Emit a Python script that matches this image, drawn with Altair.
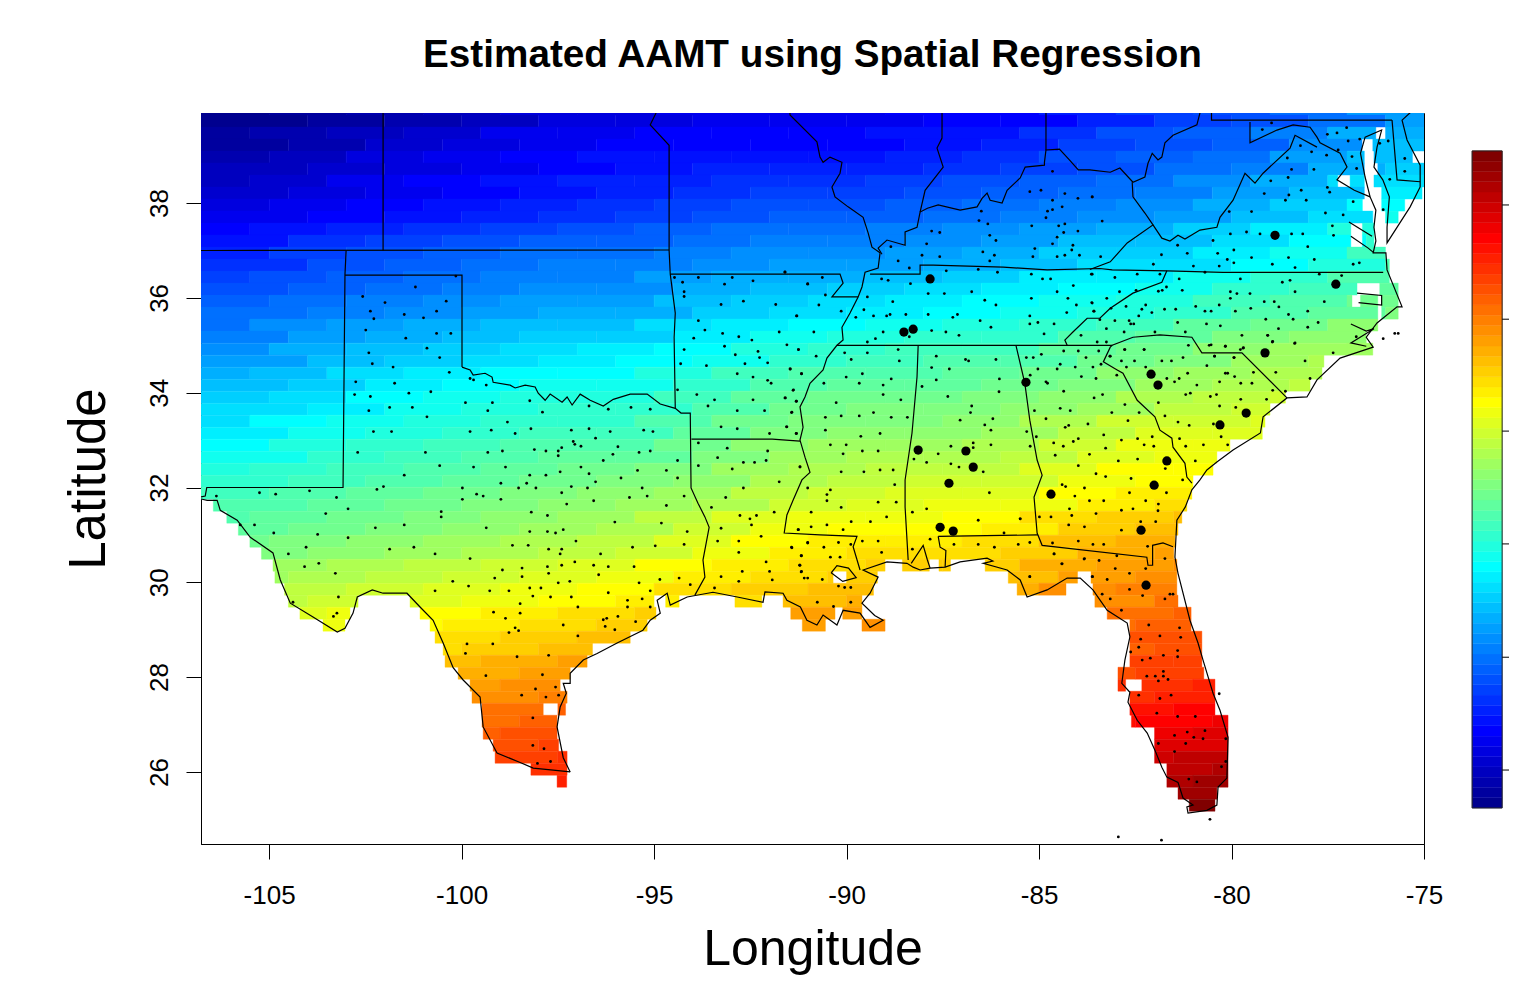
import altair as alt
import pandas as pd

alt.data_transformers.disable_max_rows()

FONT = "Liberation Sans"
TITLE = "Estimated AAMT using Spatial Regression"
X_TICKS = [-105, -100, -95, -90, -85, -80, -75]
Y_TICKS = [26, 28, 30, 32, 34, 36, 38]

PALETTE = [
 "#00008F","#00009F","#0000AF","#0000BF","#0000CF","#0000DF","#0000EF","#0000FF",
 "#0010FF","#0020FF","#0030FF","#0040FF","#0050FF","#0060FF","#0070FF","#0080FF",
 "#008FFF","#009FFF","#00AFFF","#00BFFF","#00CFFF","#00DFFF","#00EFFF","#00FFFF",
 "#10FFEF","#20FFDF","#30FFCF","#40FFBF","#50FFAF","#60FF9F","#70FF8F","#80FF80",
 "#8FFF70","#9FFF60","#AFFF50","#BFFF40","#CFFF30","#DFFF20","#EFFF10","#FFFF00",
 "#FFEF00","#FFDF00","#FFCF00","#FFBF00","#FFAF00","#FF9F00","#FF8F00","#FF8000",
 "#FF7000","#FF6000","#FF5000","#FF4000","#FF3000","#FF2000","#FF1000","#FF0000",
 "#EF0000","#DF0000","#CF0000","#BF0000","#AF0000","#9F0000","#8F0000","#800000"]

COL_LONS = [-106,-104,-102,-100,-98,-96,-94,-92,-90,-88,-86,-84,-82,-80,-78,-76]
COL_STAGGER = [0.0, 1.0, -0.5, 0.5]
LEVELS = {
40.0:[0,1,2,3,5,5,6,6,6,7,7,9,11,12,14,17],
39.75:[0,1,2,3,5,5,6,6,6,7,7,9,11,12,14,17],
39.5:[1,2,3,4,6,6,7,7,7,8,8,10,12,13,15,18],
39.25:[1,2,4,5,6,7,7,7,7,8,9,11,12,13,16,19],
39.0:[2,3,5,6,7,8,8,8,8,9,10,12,13,14,17,19],
38.75:[3,4,5,6,7,8,9,9,9,10,11,12,14,15,18,20],
38.5:[3,4,6,7,8,9,9,10,10,11,12,13,14,16,18,21],
38.25:[4,5,6,7,8,9,10,11,11,12,13,14,15,17,19,22],
38.0:[5,6,7,8,9,10,11,12,12,13,14,15,16,18,20,23],
37.75:[6,7,8,9,10,11,12,13,13,14,15,16,17,19,21,24],
37.5:[7,8,9,10,11,12,13,14,14,15,16,17,18,20,22,25],
37.25:[8,10,11,12,13,13,14,15,15,16,17,19,19,21,23,26],
37.0:[9,11,12,13,14,14,15,16,16,17,18,20,20,22,24,27],
36.75:[10,12,13,14,15,15,16,17,17,18,19,21,21,23,25,28],
36.5:[11,12,13,14,15,15,17,18,18,19,20,22,22,24,26,28],
36.25:[12,13,14,15,16,16,18,19,20,21,22,23,24,26,27,29],
36.0:[13,14,15,16,17,17,19,20,21,22,23,24,25,27,28,30],
35.75:[14,15,16,17,18,18,20,21,22,23,24,25,26,28,29,31],
35.5:[14,16,17,18,19,19,21,22,23,24,25,26,27,29,30,32],
35.25:[15,17,18,19,20,20,22,24,25,26,26,28,29,31,32,33],
35.0:[16,18,19,20,21,22,23,25,26,27,27,29,30,32,33,33],
34.75:[17,19,20,21,22,23,24,26,27,28,28,30,31,33,34,34],
34.5:[18,19,21,22,23,23,25,27,28,28,29,30,32,33,34,35],
34.25:[19,20,22,23,24,24,26,28,29,29,30,31,33,34,35,36],
34.0:[20,21,23,24,25,25,27,29,30,30,31,32,34,35,36,37],
33.75:[21,22,24,25,26,26,28,30,31,31,32,33,35,36,37,38],
33.5:[21,23,24,25,26,26,28,30,31,31,32,34,36,36,37,38],
33.25:[22,24,25,26,27,27,29,31,32,32,33,35,37,37,38,39],
33.0:[23,25,26,27,28,28,30,32,33,33,34,36,38,38,39,40],
32.75:[24,26,27,28,29,29,31,33,34,34,35,37,38,39,39,40],
32.5:[25,26,27,28,29,30,31,33,34,35,35,37,39,39,40,41],
32.25:[26,27,28,29,30,31,32,34,35,36,36,38,39,40,40,41],
32.0:[27,28,29,30,31,32,33,35,36,37,37,39,40,41,41,42],
31.75:[28,29,30,31,32,33,34,36,37,38,38,40,41,42,42,43],
31.5:[28,29,30,31,32,33,35,37,38,38,39,41,42,43,43,44],
31.25:[29,30,31,32,33,34,36,38,39,39,40,42,43,44,44,45],
31.0:[30,31,32,33,34,35,37,39,40,40,41,43,44,45,45,46],
30.75:[31,32,33,34,35,36,38,40,41,41,42,44,45,46,46,47],
30.5:[32,33,34,35,36,37,39,40,41,42,42,44,45,46,46,47],
30.25:[33,34,35,36,37,38,40,41,42,43,43,45,46,47,47,48],
30.0:[34,35,36,37,38,39,41,42,43,44,44,46,47,48,48,48],
29.75:[35,36,37,38,39,40,41,43,44,45,45,46,48,48,48,49],
29.5:[36,37,38,39,40,41,42,44,45,45,46,47,48,49,49,49],
29.25:[37,38,39,40,41,42,43,45,46,46,47,48,49,49,49,50],
29.0:[38,39,40,41,42,43,44,46,47,47,48,49,50,50,50,50],
28.75:[39,40,41,42,43,44,45,47,47,48,49,49,50,51,51,51],
28.5:[40,41,42,43,44,45,46,47,48,48,49,50,51,51,51,51],
28.25:[41,42,43,44,45,46,47,48,48,49,50,50,51,52,52,52],
28.0:[41,43,44,45,46,47,47,48,48,49,50,51,52,53,53,53],
27.75:[42,44,45,46,47,48,48,49,49,50,51,52,53,54,54,54],
27.5:[43,45,46,47,48,49,49,50,50,51,52,53,54,55,55,55],
27.25:[44,46,47,48,49,50,50,51,51,52,53,54,55,56,56,56],
27.0:[45,47,48,49,50,51,51,52,52,53,54,55,56,57,57,57],
26.75:[46,48,49,50,51,52,52,53,53,54,55,56,57,58,58,58],
26.5:[47,49,50,51,51,52,53,54,54,55,56,57,58,59,59,59],
26.25:[48,50,51,51,52,53,54,55,55,56,57,58,59,60,60,60],
26.0:[49,50,51,52,53,53,55,56,56,57,58,59,60,61,61,61],
25.75:[49,50,51,52,53,54,55,56,57,58,59,60,61,62,62,62],
25.5:[49,50,51,52,53,54,55,56,57,58,59,60,62,63,63,63]}

W = -107.0
E = -74.9
SPANS = {
40.0:[(W,E)],39.75:[(W,E)],39.5:[(W,-76.25),(-76.0,E)],39.25:[(W,-76.61),(-76.33,E)],
39.0:[(W,-76.55),(-76.3,-75.3)],38.75:[(W,-76.55),(-76.2,E)],
38.5:[(W,-77.24),(-76.92,-76.55),(-76.3,E)],38.25:[(W,-76.55),(-76.1,-75.05)],
38.0:[(W,-76.6),(-76.1,-75.5)],37.75:[(W,-76.33),(-76.0,-75.67)],
37.5:[(W,-76.9),(-76.6,-76.3)],37.25:[(W,-76.9),(-76.6,-76.3)],37.0:[(W,-76.0)],
36.75:[(W,-75.9)],36.5:[(W,-75.9)],36.25:[(W,-76.74),(-76.15,-75.67)],
36.0:[(W,-76.87),(-76.65,-76.2),(-76.1,-75.67)],35.75:[(W,-76.2),(-76.1,-75.67)],
35.5:[(W,-76.2)],35.25:[(W,-76.5)],35.0:[(W,-76.33)],34.75:[(W,-77.6)],34.5:[(W,-77.65)],
34.25:[(W,-77.96)],34.0:[(W,-78.6)],33.75:[(W,-79.0)],33.5:[(W,-79.13)],33.25:[(W,-79.2)],
33.0:[(W,-80.04)],32.75:[(W,-80.38)],32.5:[(W,-80.48)],32.25:[(W,-81.0)],32.0:[(W,-81.03)],
31.75:[(-106.45,-81.16)],31.5:[(-106.1,-81.29)],31.25:[(-105.8,-81.39)],31.0:[(-105.5,-81.47)],
30.75:[(-105.2,-81.5)],
30.5:[(-104.9,-89.0),(-88.55,-87.85),(-87.6,-87.3),(-86.4,-81.42)],
30.25:[(-104.85,-90.35),(-90.0,-89.2),(-85.8,-84.0),(-83.65,-81.42)],
30.0:[(-104.6,-89.3),(-85.57,-84.3),(-83.6,-81.42)],
29.75:[(-104.5,-102.69),(-101.34,-95.0),(-94.7,-94.35),(-92.9,-92.2),(-91.65,-89.6),(-83.55,-81.39)],
29.5:[(-104.2,-102.9),(-101.08,-94.95),(-91.45,-90.3),(-90.1,-89.6),(-83.23,-81.05)],
29.25:[(-103.6,-103.03),(-100.82,-95.18),(-91.15,-90.55),(-89.6,-89.0),(-82.64,-81.05)],
29.0:[(-100.69,-95.62),(-82.64,-80.77)],28.75:[(-100.48,-96.6),(-82.64,-80.77)],
28.5:[(-100.43,-96.74),(-82.64,-80.77)],28.25:[(-100.09,-97.18),(-82.95,-80.72)],
28.0:[(-99.78,-97.44),(-82.95,-82.75),(-82.33,-80.43)],27.75:[(-99.73,-97.26),(-82.64,-80.43)],
27.5:[(-99.47,-97.88),(-97.5,-97.3),(-82.64,-80.43)],27.25:[(-99.47,-97.52),(-82.6,-80.09)],
27.0:[(-99.44,-97.52),(-82.0,-80.09)],26.75:[(-99.18,-97.48),(-82.0,-80.09)],
26.5:[(-99.13,-97.26),(-82.0,-80.09)],26.25:[(-98.2,-97.26),(-81.68,-80.09)],
26.0:[(-97.52,-97.27),(-81.68,-80.09)],25.75:[(-81.39,-80.38)],25.5:[(-81.1,-80.43)]}
ROW_TOP_AT_38 = 38.084
ROW_PITCH = 0.2532

LINES = {
"co_ks":[(-102.04,40.0),(-102.04,37.0)],
"n37":[(-106.8,37.0),(-94.61,37.01)],
"nm_ok":[(-103.0,37.0),(-103.03,36.5),(-103.08,32.0),(-106.62,32.0),(-106.66,31.82),(-106.9,31.78)],
"pan":[(-103.03,36.48),(-99.99,36.48),(-99.99,34.54)],
"red":[(-99.99,34.54),(-99.78,34.48),(-99.7,34.37),(-99.39,34.41),(-99.21,34.33),(-99.18,34.22),(-98.74,34.16),(-98.61,34.1),(-98.35,34.16),(-98.09,34.12),(-98.01,33.99),(-97.83,33.84),(-97.7,33.97),(-97.39,33.8),(-97.26,33.91),(-97.13,33.74),(-96.92,33.97),(-96.66,33.84),(-96.32,33.72),(-96.06,33.86),(-95.62,33.97),(-95.18,33.97),(-94.84,33.76),(-94.45,33.67),(-94.3,33.57),(-94.06,33.57),(-94.04,31.99),(-93.86,31.67),(-93.68,31.38),(-93.57,31.16),(-93.73,30.47),(-93.68,30.11),(-93.94,29.73)],
"ks_mo":[(-94.92,39.95),(-95.1,39.65),(-94.61,39.22),(-94.61,37.0),(-94.58,36.5),(-94.45,35.68),(-94.48,35.17),(-94.45,33.67)],
"ar_mo":[(-94.58,36.5),(-90.17,36.5),(-90.09,36.31),(-90.38,36.02),(-89.7,36.02)],
"ar_la":[(-94.03,33.02),(-91.93,33.02),(-91.21,32.98)],
"miss":[(-91.47,39.95),(-91.47,39.86),(-90.77,39.29),(-90.69,38.97),(-90.61,38.86),(-90.43,38.97),(-90.12,38.86),(-90.17,38.63),(-90.38,38.34),(-90.3,38.13),(-89.96,37.92),(-89.57,37.7),(-89.44,37.37),(-89.34,37.07),(-89.13,36.95),(-89.18,36.63),(-89.52,36.54),(-89.6,36.23),(-89.7,36.02),(-89.91,35.68),(-90.12,35.38),(-90.09,35.11),(-90.25,35.0),(-90.51,34.73),(-90.61,34.48),(-90.95,34.2),(-91.08,33.91),(-91.21,33.7),(-91.13,33.27),(-91.21,33.0),(-91.08,32.64),(-90.95,32.32),(-91.16,32.16),(-91.39,31.73),(-91.55,31.42),(-91.62,31.04),(-90.69,31.0),(-89.73,30.97),(-89.83,30.75),(-89.65,30.26)],
"ms_al":[(-88.14,35.0),(-88.17,34.33),(-88.3,33.15),(-88.48,32.16),(-88.48,31.59),(-88.4,30.47)],
"n35":[(-90.25,35.0),(-83.1,35.0)],
"al_fl":[(-87.62,30.97),(-85.03,31.0)],
"perdido":[(-87.62,30.97),(-87.57,30.74),(-87.42,30.67),(-87.44,30.32)],
"al_ga":[(-85.6,35.0),(-85.37,34.2),(-85.24,33.42),(-85.05,32.58),(-84.92,32.26),(-85.13,31.8),(-85.05,31.04),(-84.92,30.78),(-82.2,30.53),(-82.17,30.36),(-82.05,30.36),(-82.05,30.78),(-81.78,30.83),(-81.52,30.75)],
"ga_sc":[(-81.03,32.09),(-81.16,32.22),(-81.21,32.51),(-81.52,32.85),(-81.55,33.04),(-81.86,33.21),(-81.99,33.49),(-82.45,33.84),(-82.82,34.41),(-82.97,34.48),(-83.33,34.65),(-83.15,34.96),(-83.1,35.0),(-82.56,35.17),(-81.86,35.22),(-81.03,35.17),(-80.77,34.84),(-79.73,34.84),(-78.56,33.89)],
"tn_nc":[(-84.27,35.0),(-84.33,35.11),(-84.12,35.28),(-83.75,35.57),(-83.42,35.57),(-83.15,35.78),(-82.56,36.1),(-81.81,36.33),(-81.68,36.57)],
"ky_tn":[(-89.39,36.5),(-88.09,36.5),(-88.09,36.69),(-87.75,36.69),(-85.93,36.65),(-84.79,36.59),(-83.42,36.62),(-83.1,36.59),(-81.68,36.57),(-80.22,36.54),(-76.06,36.54)],
"ky_va":[(-83.68,36.6),(-83.15,36.76),(-82.71,37.16),(-82.04,37.54),(-82.25,37.79),(-82.56,38.13),(-82.58,38.44)],
"wv_va":[(-82.04,37.54),(-81.81,37.26),(-81.6,37.2),(-81.39,37.32),(-81.21,37.24),(-80.82,37.43),(-80.38,37.49),(-80.3,37.7),(-79.96,38.06),(-79.65,38.63),(-79.39,38.42),(-79.18,38.63),(-78.48,39.16),(-78.35,39.43),(-77.78,39.18)],
"potomac":[(-79.52,39.71),(-79.52,39.27),(-78.82,39.54),(-78.4,39.65),(-77.96,39.6),(-77.78,39.39),(-77.7,39.27),(-77.18,39.05),(-77.0,38.76),(-77.26,38.49),(-76.81,38.27),(-76.4,38.13)],
"pa":[(-80.52,39.95),(-80.52,39.75),(-75.83,39.75)],
"ohio_e":[(-80.82,39.95),(-80.82,39.9),(-80.9,39.65),(-81.52,39.43),(-81.73,39.27),(-81.81,38.97),(-81.91,38.91),(-82.06,39.05),(-82.17,38.84),(-82.25,38.55),(-82.56,38.44),(-82.9,38.74),(-83.15,38.65),(-83.68,38.7),(-83.98,38.7),(-84.2,38.9),(-84.47,39.14),(-84.82,39.12),(-84.86,38.86),(-84.86,38.8),(-85.36,38.76),(-85.49,38.53),(-85.83,38.27),(-85.96,38.0),(-86.27,38.06),(-86.35,38.21),(-86.48,38.1),(-86.61,37.92),(-87.05,37.85),(-87.62,37.96),(-87.9,37.89),(-88.09,37.81),(-88.17,37.49),(-88.48,37.39),(-88.48,37.11),(-88.95,37.22),(-89.18,37.05),(-89.08,36.92)],
"il_in":[(-87.52,39.95),(-87.52,39.37),(-87.65,39.16),(-87.49,38.76),(-87.96,38.27),(-88.09,37.81)],
"in_oh":[(-84.82,39.95),(-84.82,39.12)],
"de":[(-75.83,39.75),(-75.7,38.49),(-75.1,38.45)],
"rio":[(-106.9,31.78),(-106.61,31.73),(-106.35,31.73),(-106.27,31.52),(-105.83,31.31),(-105.49,30.95),(-104.9,30.62),(-104.71,30.05),(-104.45,29.56),(-103.86,29.27),(-103.23,28.95),(-103.03,29.03),(-102.82,29.35),(-102.71,29.69),(-102.32,29.84),(-102.04,29.77),(-101.42,29.77),(-101.08,29.48),(-100.74,29.2),(-100.48,28.72),(-100.22,28.2),(-99.96,27.94),(-99.52,27.58),(-99.44,26.95),(-99.08,26.4),(-98.48,26.2),(-98.14,26.08),(-97.62,26.04),(-97.18,26.0)],
"tx_coast":[(-97.18,26.0),(-97.36,26.3),(-97.52,26.95),(-97.44,27.37),(-97.28,27.66),(-97.36,27.87),(-97.18,27.87),(-97.18,28.08),(-96.84,28.36),(-96.48,28.5),(-95.96,28.72),(-95.29,28.99),(-95.1,29.2),(-94.84,29.35),(-94.92,29.62),(-94.66,29.77),(-94.58,29.52),(-94.14,29.69),(-93.47,29.79),(-92.84,29.69),(-92.17,29.58),(-92.12,29.8),(-91.65,29.77),(-91.55,29.62),(-91.2,29.48),(-91.03,29.2),(-90.77,29.1),(-90.61,29.31),(-90.25,29.1),(-90.09,29.41),(-89.65,29.35),(-89.39,29.05),(-89.05,29.2),(-89.27,29.3),(-89.6,29.56),(-89.39,29.77),(-89.18,30.11),(-89.57,30.26),(-88.95,30.43),(-88.43,30.4),(-88.27,30.32),(-88.09,30.26),(-87.83,30.3),(-87.44,30.32),(-87.05,30.43),(-86.35,30.51),(-86.2,30.45),(-86.45,30.4),(-85.83,30.26),(-85.49,30.05),(-85.31,29.69),(-84.79,29.84),(-84.27,30.09),(-83.93,30.09),(-83.6,29.84),(-83.23,29.41),(-82.71,29.14),(-82.64,28.85),(-82.77,28.36),(-82.85,27.87),(-82.64,27.68),(-82.69,27.47),(-82.45,27.09),(-82.19,26.82),(-81.99,26.46),(-81.81,26.1),(-81.68,25.89),(-81.39,25.78),(-81.26,25.45),(-81.0,25.3),(-81.16,25.26),(-81.13,25.13),(-80.64,25.19),(-80.38,25.3),(-80.35,25.68),(-80.12,25.87),(-80.09,26.73),(-80.3,27.3),(-80.48,27.66),(-80.74,28.36),(-80.87,28.72),(-81.08,29.2),(-81.39,30.19),(-81.47,30.53),(-81.42,31.31),(-81.2,31.59),(-81.03,31.95),(-80.82,32.16),(-80.64,32.37),(-80.38,32.54),(-79.96,32.79),(-79.25,33.15),(-79.18,33.49),(-78.56,33.89),(-78.04,33.91),(-77.78,34.27),(-77.18,34.73),(-76.32,34.96),(-76.5,35.17),(-76.22,35.47),(-75.7,35.81),(-75.57,35.81),(-75.96,36.59),(-75.99,36.95),(-76.32,36.95),(-76.25,37.2),(-76.3,37.49),(-76.25,37.85),(-76.4,38.13),(-76.53,38.55),(-76.65,39.05),(-76.53,39.39),(-76.1,39.54),(-76.22,39.18),(-76.3,38.76),(-76.07,38.49),(-75.9,38.13),(-75.96,37.49),(-75.96,37.16),(-75.36,37.92),(-75.1,38.34),(-75.1,38.8),(-75.44,39.33),(-75.57,39.75),(-75.3,39.95)],
"mobile":[(-88.32,30.4),(-88.01,30.78),(-87.9,30.47),(-87.83,30.3)],
"pontch":[(-90.4,30.2),(-90.25,30.35),(-89.95,30.3),(-89.75,30.1),(-90.1,30.02),(-90.4,30.2)],
"albem":[(-76.74,36.1),(-76.1,36.05),(-76.1,35.85),(-76.7,35.9)],
"pamlico":[(-76.9,35.45),(-76.5,35.3),(-76.3,35.35),(-76.9,35.05),(-76.5,34.98)],
"james":[(-76.9,37.3),(-76.45,37.05),(-76.3,36.95)],
"york":[(-76.95,37.6),(-76.35,37.3)]}

TINY_W_TX = [(-100.15,36.46),(-101.2,36.23),(-102.57,36.03),(-101.99,35.9),(-100.4,35.93),(-102.37,35.72),(-100.65,35.72),(-101.49,35.65),(-100.99,35.58),(-102.28,35.56),(-102.49,35.32),(-100.65,35.25),(-100.28,35.25),(-101.45,35.15),(-100.9,34.94),(-102.41,34.84),(-100.57,34.74),(-102.32,34.61),(-101.78,34.54),(-100.32,34.43),(-99.78,34.3),(-99.69,34.27),(-102.75,34.23),(-101.74,34.2),(-99.36,34.16),(-100.8,34.02),(-101.37,33.99),(-102.78,33.96),(-102.37,33.92),(-99.9,33.79),(-99.2,33.79),(-101.87,33.69),(-101.28,33.69),(-102.41,33.62),(-99.32,33.62),(-100.9,33.49),(-98.81,33.38),(-102.29,33.18),(-101.82,33.18),(-99.78,33.18),(-99.23,33.21),(-98.61,33.14),(-102.7,32.74),(-100.94,32.74),(-99.32,32.74),(-98.94,32.77),(-100.57,32.46),(-99.69,32.43),(-98.86,32.43),(-101.49,32.26),(-98.98,32.09),(-98.31,32.09),(-102.03,32.02),(-102.2,31.96),(-99.98,31.99),(-98.52,31.99),(-105.25,31.89),(-104.83,31.86),(-103.95,31.93),(-106.37,31.82),(-103.25,31.79),(-99.61,31.86),(-99.44,31.82),(-99.98,31.75),(-98.98,31.75),(-102.95,31.55),(-103.53,31.45),(-100.53,31.49),(-100.53,31.38),(-105.75,31.21),(-105.38,31.21),(-101.49,31.21),(-102.24,31.15),(-99.36,31.15),(-104.88,31.04),(-103.74,31.01),(-102.95,30.94),(-104.04,30.74),(-101.87,30.7),(-101.24,30.74),(-98.68,30.78),(-98.27,30.78),(-104.5,30.6),(-100.69,30.6),(-99.78,30.5),(-103.71,30.4),(-104.08,30.33),(-103.28,30.19),(-98.94,30.26),(-98.43,30.3),(-98.43,30.12),(-99.14,30.09),(-100.23,30.02),(-99.82,29.92),(-100.69,29.82),(-99.27,29.82),(-98.77,29.82),(-103.2,29.69),(-104.38,29.58),(-98.48,29.55),(-99.17,29.37),(-98.48,29.35),(-103.24,29.35),(-103.33,29.28),(-98.86,29.24),(-98.61,29.04),(-98.52,28.98),(-98.77,28.94),(-99.86,28.7),(-99.19,28.7),(-99.9,28.5),(-98.56,28.43)]
TINY_AR = [(-91.6,36.55),(-94.47,36.43),(-94.26,36.33),(-93.85,36.43),(-92.97,36.43),(-92.43,36.36),(-93.17,36.29),(-91.01,36.29),(-94.22,36.13),(-94.22,36.03),(-93.26,35.86),(-92.68,35.93),(-91.84,35.86),(-91.29,35.62),(-93.85,35.52),(-93.68,35.32),(-93.22,35.25),(-91.75,35.28),(-92.8,35.18),(-93.97,35.15),(-92.46,35.11),(-93.17,34.98),(-91.55,35.01),(-94.22,34.91),(-92.3,34.87),(-91.25,34.91),(-92.89,34.8),(-92.26,34.74),(-94.31,34.61),(-93.64,34.57),(-92.64,34.61),(-92.05,34.63),(-91.46,34.5),(-92.84,34.4),(-91.17,34.4),(-92.43,34.33),(-92.05,34.26),(-91.96,34.2),(-94.39,34.06),(-91.38,34.06),(-93.89,33.96),(-93.43,33.85),(-92.43,33.85),(-91.59,33.89),(-91.3,33.82),(-93.6,33.72),(-92.84,33.62),(-92.13,33.62),(-91.42,33.59),(-93.26,33.28),(-92.84,33.24),(-91.55,33.28),(-92.0,33.14),(-91.3,33.14)]
TINY_E_TX = [(-98.23,33.83),(-97.9,33.59),(-98.2,33.24),(-97.15,33.21),(-96.69,33.24),(-96.14,33.18),(-95.27,33.21),(-95.03,33.18),(-96.52,33.04),(-96.19,33.65),(-95.6,33.69),(-95.1,33.65),(-96.69,33.72),(-97.1,32.97),(-97.06,32.91),(-96.9,32.87),(-98.11,32.8),(-97.81,32.77),(-97.4,32.84),(-97.49,32.77),(-97.49,32.67),(-95.94,32.86),(-96.07,32.7),(-95.39,32.74),(-95.1,32.77),(-96.32,32.57),(-94.39,32.57),(-96.9,32.43),(-95.43,32.36),(-94.68,32.36),(-97.44,32.33),(-96.69,32.29),(-98.23,32.26),(-97.81,32.26),(-95.86,32.2),(-94.39,32.2),(-96.52,32.12),(-98.07,31.99),(-97.15,32.02),(-96.73,31.99),(-95.31,31.99),(-97.4,31.89),(-95.64,31.79),(-95.18,31.82),(-94.22,31.82),(-96.57,31.72),(-97.27,31.65),(-94.68,31.62),(-98.19,31.48),(-97.77,31.41),(-96.02,31.27),(-94.81,31.25),(-97.36,31.11),(-97.77,31.07),(-97.56,31.04),(-98.23,31.07),(-94.14,31.07),(-97.03,30.87),(-94.22,30.8),(-95.56,30.74),(-94.97,30.77),(-97.4,30.7),(-97.74,30.7),(-96.39,30.6),(-97.44,30.6),(-97.06,30.43),(-97.4,30.36),(-96.57,30.36),(-96.19,30.33),(-95.52,30.33),(-97.77,30.33),(-97.74,30.19),(-96.44,30.16),(-94.35,30.09),(-94.85,30.06),(-95.39,29.99),(-97.19,30.02),(-97.49,29.99),(-94.06,29.95),(-97.94,29.88),(-98.23,29.88),(-96.19,29.78),(-95.1,29.82),(-98.15,29.71),(-97.69,29.69),(-97.15,29.69),(-95.31,29.65),(-95.69,29.62),(-95.69,29.48),(-96.98,29.48),(-95.1,29.48),(-95.94,29.28),(-96.23,29.24),(-96.32,29.21),(-97.36,29.1),(-96.27,29.07),(-96.02,29.0),(-95.48,29.17),(-96.98,28.87),(-97.74,28.46),(-97.9,28.05),(-97.56,27.79),(-97.48,27.62),(-97.81,27.58),(-98.15,27.14),(-97.86,26.49),(-97.69,26.22),(-98.03,26.18),(-98.15,26.56),(-99.37,28.03),(-98.44,27.62),(-98.08,27.75)]
TINY_LA = [(-93.1,32.83),(-93.35,32.63),(-93.85,32.94),(-92.05,32.77),(-92.68,32.53),(-92.39,32.53),(-92.09,32.57),(-93.85,32.46),(-92.97,32.39),(-91.21,32.43),(-91.75,32.12),(-92.68,31.99),(-93.14,31.79),(-93.51,31.58),(-91.88,31.48),(-92.77,31.41),(-92.51,31.34),(-92.34,31.41),(-92.47,31.21),(-93.26,31.14),(-91.25,31.11),(-92.22,30.97),(-93.35,30.87),(-92.8,30.87),(-91.42,30.73),(-91.01,30.83),(-92.8,30.63),(-91.17,30.56),(-92.09,30.43),(-91.21,30.36),(-92.0,30.23),(-92.71,30.23),(-91.17,30.23),(-93.26,30.12),(-92.8,30.02),(-91.93,30.05),(-91.01,30.09),(-93.43,29.88)]
TINY_TN_KY = [(-84.65,38.67),(-85.24,38.24),(-84.95,38.27),(-84.33,38.2),(-83.99,38.1),(-83.62,38.13),(-84.65,38.06),(-84.78,37.83),(-84.65,37.86),(-84.4,37.92),(-84.82,37.69),(-86.5,37.83),(-86.56,37.63),(-86.33,37.56),(-85.19,37.52),(-84.49,37.52),(-84.33,37.56),(-87.79,37.41),(-87.58,37.38),(-86.28,37.32),(-84.36,37.38),(-83.99,37.41),(-84.53,37.28),(-86.12,37.21),(-87.92,37.14),(-84.65,37.14),(-84.12,37.11),(-85.11,37.04),(-84.15,37.01),(-88.85,37.08),(-86.46,36.97),(-88.04,36.9),(-87.58,36.87),(-86.16,36.9),(-85.16,36.87),(-84.53,36.87),(-84.33,36.9),(-83.95,36.9),(-88.66,36.78),(-86.28,36.78),(-88.37,36.63),(-87.41,36.57),(-86.58,36.6),(-86.08,36.54),(-85.2,36.5),(-83.62,36.5),(-91.6,36.54),(-90.63,36.43),(-91.01,36.3),(-89.09,36.4),(-88.92,36.37),(-88.34,36.3),(-84.91,36.4),(-84.7,36.4),(-84.11,36.26),(-90.55,36.06),(-87.88,36.09),(-87.46,36.09),(-86.75,36.13),(-84.53,36.13),(-89.46,36.02),(-85.2,35.99),(-84.25,35.99),(-86.41,35.95),(-88.8,35.92),(-90.72,35.85),(-86.12,35.85),(-84.03,35.85),(-83.62,35.89),(-90.14,35.72),(-89.55,35.75),(-84.28,35.69),(-83.57,35.72),(-91.3,35.62),(-89.76,35.59),(-89.3,35.62),(-88.96,35.62),(-88.87,35.65),(-88.46,35.65),(-87.88,35.65),(-87.12,35.65),(-87.24,35.59),(-85.24,35.62),(-86.53,35.52),(-85.24,35.45),(-85.03,35.48),(-84.61,35.45),(-86.25,35.38),(-90.85,35.28),(-89.05,35.28),(-87.79,35.31),(-87.42,35.28),(-87.08,35.21),(-84.87,35.24),(-83.91,35.21),(-89.46,35.07),(-89.25,35.14),(-88.37,35.18)]
TINY_VA_NC = [(-79.2,39.55),(-78.96,39.69),(-77.51,39.45),(-77.26,39.48),(-77.01,39.59),(-76.97,39.31),(-76.67,39.35),(-76.15,39.26),(-75.93,39.31),(-78.21,39.21),(-77.92,39.08),(-77.23,39.12),(-77.53,39.01),(-78.55,38.95),(-76.87,38.98),(-75.5,38.94),(-75.5,38.67),(-78.44,38.71),(-77.86,38.71),(-76.75,38.73),(-78.53,38.54),(-78.98,38.47),(-75.89,38.5),(-77.51,38.33),(-78.19,38.27),(-77.45,38.23),(-79.15,38.2),(-78.51,38.17),(-78.06,38.06),(-78.6,38.06),(-83.62,38.13),(-76.84,38.03),(-76.06,37.86),(-79.48,37.82),(-80.06,37.82),(-77.56,37.79),(-77.1,37.75),(-83.36,37.62),(-77.38,37.52),(-80.03,37.35),(-79.61,37.39),(-79.26,37.35),(-78.44,37.35),(-78.15,37.35),(-77.35,37.32),(-80.48,37.21),(-81.4,37.11),(-78.02,37.08),(-79.94,37.01),(-81.15,36.94),(-80.36,36.94),(-81.82,36.91),(-83.4,36.87),(-79.48,36.85),(-78.52,36.85),(-77.85,36.81),(-80.11,36.81),(-79.94,36.74),(-82.03,36.71),(-80.99,36.67),(-80.32,36.67),(-78.94,36.71),(-78.35,36.64),(-76.84,36.71),(-76.68,36.74),(-83.64,36.5),(-83.03,36.43),(-82.45,36.5),(-81.86,36.5),(-80.69,36.54),(-81.36,36.4),(-79.77,36.4),(-77.14,36.47),(-77.72,36.5),(-78.68,36.33),(-78.48,36.37),(-81.69,36.23),(-81.9,36.14),(-81.8,36.16),(-82.48,36.16),(-82.91,36.13),(-81.28,36.16),(-80.03,36.13),(-79.86,36.09),(-79.52,36.09),(-78.35,36.13),(-80.03,35.99),(-83.24,35.99),(-83.63,35.9),(-79.15,35.92),(-78.89,35.92),(-77.59,35.92),(-78.77,35.81),(-80.32,35.85),(-80.93,35.82),(-82.23,35.85),(-82.74,35.82),(-83.13,35.78),(-79.5,35.78),(-82.33,35.76),(-81.45,35.76),(-81.74,35.76),(-80.69,35.72),(-80.53,35.72),(-79.9,35.72),(-78.02,35.72),(-83.58,35.72),(-82.41,35.62),(-82.07,35.69),(-78.52,35.65),(-83.42,35.54),(-82.66,35.52),(-83.03,35.52),(-79.11,35.55),(-78.4,35.55),(-77.75,35.48),(-81.4,35.48),(-80.65,35.45),(-80.29,35.41),(-82.62,35.45),(-82.54,35.45),(-78.02,35.38),(-78.78,35.35),(-83.25,35.35),(-82.79,35.28),(-81.99,35.28),(-81.2,35.28),(-79.06,35.21),(-76.76,35.18),(-75.76,35.25),(-75.67,35.25),(-76.06,35.14),(-83.49,35.07),(-83.25,35.07),(-78.94,35.07),(-78.36,35.04),(-81.12,35.0),(-80.58,35.0),(-80.16,34.98),(-79.7,34.94),(-82.78,34.91),(-82.27,34.91),(-77.36,34.84),(-83.16,34.77),(-80.44,34.77),(-79.94,34.74)]
TINY_MS_AL = [(-91.25,34.91),(-90.79,34.77),(-90.05,34.84),(-89.46,34.84),(-88.66,34.91),(-88.63,34.67),(-89.88,34.7),(-87.67,34.77),(-86.91,34.7),(-86.83,34.67),(-86.12,34.7),(-87.79,34.53),(-87.33,34.5),(-91.47,34.5),(-91.17,34.4),(-89.59,34.4),(-90.01,34.33),(-88.84,34.29),(-87.67,34.27),(-86.03,34.29),(-90.59,34.2),(-89.67,34.2),(-89.05,34.16),(-88.04,34.13),(-86.04,34.02),(-91.39,34.05),(-89.05,33.96),(-87.37,33.92),(-91.6,33.89),(-88.59,33.85),(-90.27,33.79),(-91.31,33.82),(-86.75,33.72),(-86.78,33.58),(-91.43,33.58),(-89.3,33.58),(-90.55,33.48),(-90.14,33.51),(-89.67,33.51),(-88.84,33.48),(-88.42,33.48),(-86.2,33.45),(-87.05,33.42),(-91.56,33.28),(-86.41,33.32),(-86.25,33.21),(-90.55,33.21),(-89.13,33.14),(-91.31,33.14),(-89.63,33.08),(-86.71,32.94),(-86.25,32.9),(-90.42,32.9),(-90.01,32.9),(-87.29,32.87),(-86.71,32.84),(-89.59,32.77),(-89.18,32.77),(-87.62,32.71),(-90.09,32.71),(-88.25,32.6),(-87.92,32.53),(-91.21,32.44),(-87.29,32.5),(-87.08,32.43),(-86.45,32.33),(-89.13,32.37),(-88.79,32.37),(-89.55,32.33),(-90.14,32.33),(-88.75,32.06),(-91.01,31.99),(-90.42,31.95),(-90.51,31.85),(-86.29,31.89),(-89.18,31.69),(-88.71,31.69),(-90.51,31.72),(-90.14,31.58),(-87.92,31.55),(-90.92,31.48),(-88.29,31.48),(-90.51,31.21),(-88.96,31.38),(-85.49,31.34),(-86.58,31.31),(-89.88,31.28),(-89.38,31.28),(-90.92,31.17),(-90.09,31.11),(-91.26,31.11),(-85.91,31.04),(-87.83,30.91),(-89.59,30.87),(-89.18,30.87),(-91.01,30.84),(-90.21,30.84),(-87.21,30.8),(-86.58,30.8),(-85.54,30.8),(-85.24,30.84),(-91.43,30.74),(-90.59,30.74),(-89.89,30.8),(-86.16,30.74),(-88.29,30.7),(-89.09,30.63),(-91.18,30.56),(-90.42,30.53),(-90.17,30.53),(-91.22,30.36),(-84.61,30.6),(-83.83,30.49),(-84.41,30.39),(-91.18,30.22),(-91.1,30.09),(-90.63,30.06),(-90.21,29.92),(-90.05,29.89),(-89.89,29.89),(-90.76,29.58),(-90.34,29.49),(-89.89,29.58),(-85.24,30.12),(-83.62,30.12)]
TINY_GA_SC = [(-85.33,34.74),(-85.15,34.74),(-84.94,34.81),(-84.36,34.88),(-83.98,34.88),(-83.45,34.88),(-83.78,34.74),(-83.15,34.77),(-82.77,34.91),(-82.27,34.91),(-80.53,35.01),(-80.16,34.98),(-79.73,35.21),(-79.06,35.21),(-78.93,35.08),(-78.35,35.05),(-79.69,34.95),(-79.77,34.91),(-82.86,34.67),(-82.52,34.67),(-81.81,34.67),(-81.56,34.67),(-81.26,34.74),(-80.44,34.77),(-79.93,34.74),(-78.09,34.67),(-84.45,34.6),(-83.39,34.6),(-85.03,34.5),(-84.53,34.5),(-84.06,34.54),(-83.6,34.54),(-82.73,34.54),(-82.23,34.54),(-80.64,34.57),(-81.14,34.41),(-81.68,34.3),(-81.36,34.3),(-81.48,34.23),(-80.9,34.16),(-80.16,34.41),(-80.1,34.41),(-79.92,34.34),(-79.43,34.43),(-78.85,34.43),(-77.96,34.3),(-80.31,34.23),(-79.76,34.2),(-79.47,34.2),(-85.23,34.37),(-84.82,34.23),(-84.78,34.2),(-83.9,34.34),(-83.52,34.3),(-82.98,34.37),(-84.36,34.03),(-83.35,33.96),(-81.07,33.99),(-81.19,33.96),(-80.39,33.96),(-80.55,33.92),(-78.93,34.05),(-78.6,34.03),(-83.57,33.89),(-81.9,33.79),(-79.76,33.86),(-79.09,33.86),(-82.77,33.75),(-80.31,33.72),(-79.89,33.69),(-84.45,33.67),(-84.19,33.62),(-85.12,33.62),(-83.11,33.58),(-82.4,33.58),(-81.73,33.51),(-84.82,33.45),(-82.69,33.41),(-81.39,33.38),(-83.73,33.34),(-81.1,33.31),(-84.32,33.27),(-84.23,33.31),(-80.47,33.34),(-85.32,33.18),(-83.32,33.11),(-85.07,33.07),(-83.98,33.03),(-84.11,32.97),(-82.86,33.0),(-82.44,33.03),(-82.06,33.07),(-81.35,33.03),(-80.27,33.07),(-84.62,32.94),(-85.23,32.87),(-84.37,32.87),(-83.27,32.83),(-82.27,32.9),(-82.02,32.87),(-81.19,32.87),(-80.73,32.9),(-80.1,32.9),(-83.69,32.7),(-84.58,32.68),(-82.94,32.56),(-82.44,32.6),(-80.94,32.56),(-83.98,32.46),(-81.72,32.4),(-83.52,32.29),(-83.27,32.23),(-82.61,32.19),(-81.27,32.16),(-84.4,32.06),(-84.31,32.02),(-83.82,31.99),(-82.65,31.89),(-81.69,31.89),(-84.07,31.82),(-83.69,31.72),(-83.32,31.72),(-82.23,31.72),(-81.9,31.65),(-81.91,31.51),(-82.86,31.52),(-82.56,31.55),(-84.21,31.55),(-84.15,31.41),(-83.52,31.45),(-84.99,31.38),(-84.69,31.38),(-85.49,31.34),(-82.36,31.28),(-81.97,31.28),(-84.23,31.21),(-83.82,31.17),(-82.86,31.1),(-83.98,30.87),(-83.6,30.8),(-83.32,30.8),(-84.65,30.83),(-82.18,30.76),(-84.61,30.6),(-82.98,30.56),(-83.82,30.5),(-83.44,30.46),(-81.73,30.5),(-84.4,30.39),(-83.02,30.29),(-82.23,30.29),(-82.65,30.19),(-83.61,30.12),(-83.23,30.06),(-85.24,30.12),(-82.65,29.85),(-81.6,29.75),(-81.52,29.75),(-82.31,29.72),(-83.36,29.75),(-83.15,29.65),(-81.73,29.65),(-82.86,29.41),(-82.15,29.1),(-81.35,29.04)]
TINY_FL = [(-81.86,28.87),(-82.36,28.8),(-81.32,28.84),(-82.41,28.63),(-81.4,28.56),(-82.62,28.53),(-81.77,28.46),(-81.4,28.43),(-82.11,28.4),(-82.32,28.36),(-81.77,28.12),(-82.2,28.02),(-81.98,28.02),(-81.77,28.02),(-81.65,27.95),(-81.9,27.92),(-81.57,27.62),(-82.41,27.62),(-80.32,27.65),(-81.86,27.55),(-81.94,27.24),(-81.4,27.17),(-80.94,27.17),(-80.69,26.87),(-81.15,26.84),(-81.48,26.77),(-80.98,26.73),(-80.74,26.7),(-80.15,26.7),(-81.9,26.6),(-81.19,26.6),(-81.48,26.43),(-80.15,26.22),(-80.26,26.11),(-81.11,25.85),(-80.9,25.79),(-80.56,25.0),(-82.94,24.63),(-81.82,24.56)]
LARGE = [(-78.87,37.32),(-77.29,36.29),(-87.83,36.40),(-88.51,35.28),(-88.27,35.34),(-79.13,34.84),(-82.09,34.39),(-81.91,34.16),(-85.34,34.22),(-79.62,33.57),(-80.3,33.32),(-88.14,32.79),(-86.9,32.77),(-86.71,32.43),(-81.68,32.56),(-87.34,32.09),(-82.01,32.05),(-84.69,31.86),(-87.57,31.16),(-87.23,31.08),(-82.35,31.1),(-82.22,29.94)]

BAR_LON = (-73.75, -72.97)
BAR_LAT = (25.24, 39.1)
BAR_TICK_LAT = [37.96, 35.55, 33.19, 30.81, 28.42, 26.04]
BAR_TICK_LON = (-72.97, -72.58)

# ---------- tables built from the lists above ----------
cells = []
for lat, vals in LEVELS.items():
    i = round((38 - lat) / 0.25)
    top = ROW_TOP_AT_38 - ROW_PITCH * i
    shift = COL_STAGGER[i % len(COL_STAGGER)]
    for n, (c, v) in enumerate(zip(COL_LONS, vals)):
        left = W if n == 0 else c - 1 + shift
        right = E if n == len(COL_LONS) - 1 else c + 1 + shift
        for w, e in SPANS[lat]:
            a, b = max(left, w), min(right, e)
            if a < b:
                cells.append({"lon": a, "lon2": b, "lat": top, "lat2": top - ROW_PITCH, "level": v})
cells = pd.DataFrame(cells)

rows = []
for name, pts in LINES.items():
    for k, (x, y) in enumerate(pts):
        rows.append({"seg": name, "ord": k, "lon": x, "lat": y})
lines = pd.DataFrame(rows)

tiny_pts = TINY_W_TX + TINY_AR + TINY_E_TX + TINY_LA + TINY_TN_KY + TINY_VA_NC + TINY_MS_AL + TINY_GA_SC + TINY_FL
tiny = pd.DataFrame(tiny_pts, columns=["lon", "lat"])
large = pd.DataFrame(LARGE, columns=["lon", "lat"])

step = (BAR_LAT[1] - BAR_LAT[0]) / len(PALETTE)
bar = pd.DataFrame([{"lon": BAR_LON[0], "lon2": BAR_LON[1], "lat": BAR_LAT[0] + k * step,
                     "lat2": BAR_LAT[0] + (k + 1) * step, "level": k} for k in range(len(PALETTE))])
bar_box = pd.DataFrame([{"lon": BAR_LON[0], "lon2": BAR_LON[1], "lat": BAR_LAT[0], "lat2": BAR_LAT[1]}])
bar_ticks = pd.DataFrame([{"lon": BAR_TICK_LON[0], "lon2": BAR_TICK_LON[1], "lat": t} for t in BAR_TICK_LAT])

# ---------- encodings ----------
xs = alt.Scale(domain=[-106.77, -75], nice=False, zero=False)
ys = alt.Scale(domain=[24.48, 39.9], nice=False, zero=False)
xaxis = alt.Axis(values=X_TICKS, title="Longitude", grid=False, tickSize=15, tickColor="black", domainColor="black",
                 labelFont=FONT, labelFontSize=26, labelColor="black", labelPadding=23, labelExpr="'' + datum.value",
                 labelOverlap=False, labelFlush=False, titleFont=FONT, titleFontSize=50, titleFontWeight="normal",
                 titleColor="black", titlePadding=16)
yaxis = alt.Axis(values=Y_TICKS, title="Latitude", grid=False, tickSize=15, tickColor="black", domainColor="black",
                 labelFont=FONT, labelFontSize=26, labelColor="black", labelAngle=270, labelAlign="center",
                 labelBaseline="bottom", labelPadding=14, labelOverlap=False, labelFlush=False, titleFont=FONT,
                 titleFontSize=51, titleFontWeight="normal", titleColor="black", titlePadding=31)
X = alt.X("lon:Q", scale=xs, axis=xaxis)
Y = alt.Y("lat:Q", scale=ys, axis=yaxis)
colour = alt.Scale(domain=list(range(len(PALETTE))), range=PALETTE)
C = alt.Color("level:O", scale=colour, legend=None)
S = alt.Stroke("level:O", scale=colour, legend=None)

raster = alt.Chart(cells).mark_rect(clip=True, strokeWidth=0.4).encode(x=X, x2="lon2:Q", y=Y, y2="lat2:Q", color=C, stroke=S)
borders = alt.Chart(lines).mark_line(color="black", strokeWidth=1.2, clip=True).encode(x=X, y=Y, detail="seg:N", order="ord:Q")
tiny_layer = alt.Chart(tiny).mark_point(filled=True, color="black", opacity=1, size=8, shape="circle").encode(x=X, y=Y)
large_layer = alt.Chart(large).mark_point(filled=True, color="black", opacity=1, size=85, shape="circle").encode(x=X, y=Y)
bar_layer = alt.Chart(bar).mark_rect(strokeWidth=0.4).encode(x=X, x2="lon2:Q", y=Y, y2="lat2:Q", color=C, stroke=S)
bar_frame = alt.Chart(bar_box).mark_rect(filled=False, stroke="#222222", strokeWidth=1).encode(x=X, x2="lon2:Q", y=Y, y2="lat2:Q")
bar_tick_layer = alt.Chart(bar_ticks).mark_rule(color="black", strokeWidth=1).encode(x=X, x2="lon2:Q", y=Y)

chart = alt.layer(raster, borders, tiny_layer, large_layer, bar_layer, bar_frame, bar_tick_layer).properties(
    width=1223, height=731,
    title=alt.TitleParams(TITLE, font=FONT, fontSize=38.7, fontWeight="bold", color="black", anchor="middle", offset=38),
    autosize=alt.AutoSizeParams(type="none"),
    padding={"left": 193, "top": 105, "right": 85, "bottom": 135},
    background="white",
).configure_view(stroke="black", strokeWidth=1)

chart.save("out.html", embed_options={"renderer": "svg", "actions": False})
